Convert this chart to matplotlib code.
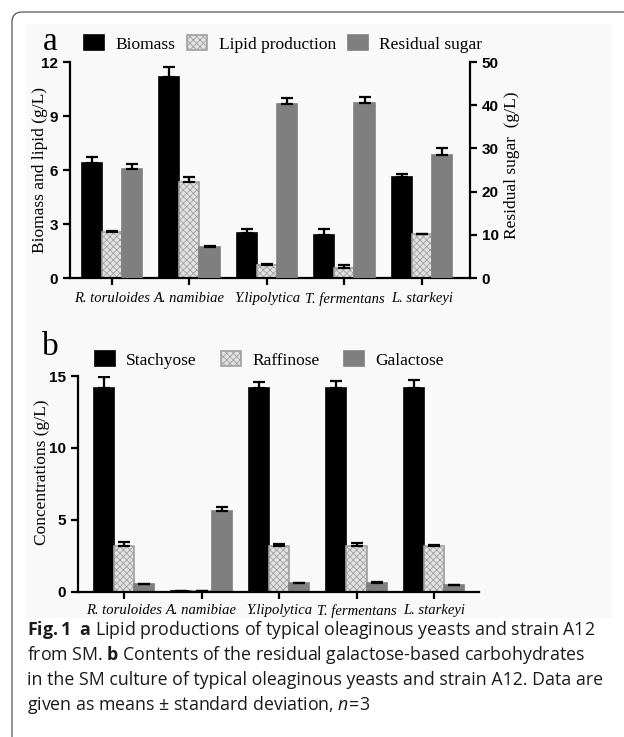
import numpy as np
import matplotlib
matplotlib.use('Agg')
import matplotlib.pyplot as plt
from matplotlib.patches import FancyBboxPatch, Rectangle
from matplotlib.transforms import IdentityTransform

# Dados
strains = ['R. toruloides', 'A. namibiae', 'Y.lipolytica', 'T. fermentans', 'L. starkeyi']

# painel a
biomass = [6.4, 11.15, 2.5, 2.4, 5.6]
biomass_err = [0.3, 0.6, 0.2, 0.3, 0.2]
lipid = [2.55, 5.35, 0.72, 0.55, 2.42]
lipid_err = [0.05, 0.25, 0.06, 0.2, 0.05]
sugar = [25.3, 7.2, 40.3, 40.6, 28.5]
sugar_err = [1.2, 0.3, 1.3, 1.4, 1.5]

# painel b
stachyose = [14.2, 0.04, 14.2, 14.2, 14.2]
stachyose_err = [0.7, 0.0, 0.35, 0.45, 0.5]
raffinose = [3.18, 0.04, 3.18, 3.18, 3.18]
raffinose_err = [0.25, 0.0, 0.15, 0.2, 0.1]
galactose = [0.52, 5.63, 0.6, 0.62, 0.45]
galactose_err = [0.03, 0.25, 0.02, 0.05, 0.02]

plt.rcParams['hatch.linewidth'] = 0.6
plt.rcParams['mathtext.fontset'] = 'custom'
plt.rcParams['mathtext.rm'] = 'Open Sans'
plt.rcParams['mathtext.bf'] = 'Open Sans:bold'
plt.rcParams['mathtext.it'] = 'Open Sans:italic'

W, H = 624, 737
fig = plt.figure(figsize=(W / 100, H / 100), dpi=100)

# moldura arredondada e fundo da imagem
fig.add_artist(FancyBboxPatch((12, -40), 700, H - 12 + 40,
                              boxstyle='round,pad=0,rounding_size=10',
                              transform=IdentityTransform(), facecolor='white',
                              edgecolor='#555555', linewidth=0.9, zorder=-2))
fig.add_artist(Rectangle((26, H - 618), 586, 594, transform=IdentityTransform(),
                         facecolor='#f9f9f9', edgecolor='none', zorder=-1))

serif = 'Liberation Serif'
sans = 'Liberation Sans'
black = '#000000'
grey = '#7f7f7f'
lipid_face = '#e2e2e2'
lipid_edge = '#a0a0a0'

x = np.arange(len(strains))
w = 0.26


def px(l, b, r, t):
    return [l / W, 1 - b / H, (r - l) / W, (b - t) / H]


def style_axis(ax):
    ax.set_facecolor('none')
    ax.spines['top'].set_visible(False)
    for s in ['left', 'bottom', 'right']:
        ax.spines[s].set_linewidth(1.6)
    ax.tick_params(axis='both', direction='out', length=5, width=1.6)
    for lab in ax.get_yticklabels():
        lab.set_fontfamily(sans)
        lab.set_fontweight('bold')
        lab.set_fontsize(11)


def bars(ax, pos, vals, errs, color, edge, hatch=None):
    b = ax.bar(pos, vals, w, color=color, edgecolor=edge, linewidth=1.2, hatch=hatch)
    ax.errorbar(pos, vals, yerr=[np.zeros(len(vals)), errs], fmt='none',
                ecolor='black', elinewidth=1.6, capsize=4.5, capthick=1.6)
    return b


# ---------- painel a ----------
ax1 = fig.add_axes(px(70, 278, 470, 62))
ax2 = ax1.twinx()
h1 = bars(ax1, x - w, biomass, biomass_err, black, black)
h2 = bars(ax1, x, lipid, lipid_err, lipid_face, lipid_edge, hatch='xxxxx')
h3 = bars(ax2, x + w, sugar, sugar_err, grey, grey)
ax1.set_xlim(-0.54, 4.62)
ax1.set_ylim(0, 12)
ax1.set_yticks([0, 3, 6, 9, 12])
ax2.set_ylim(0, 50)
ax2.set_yticks([0, 10, 20, 30, 40, 50])
ax1.set_xticks(x)
ax1.set_xticklabels(strains, fontfamily=serif, fontstyle='italic', fontsize=10.5)
style_axis(ax1)
style_axis(ax2)
ax1.tick_params(axis='x', pad=5)
ax2.spines['left'].set_visible(False)
ax2.spines['bottom'].set_visible(False)
ax1.spines['right'].set_visible(False)
ax1.set_ylabel('Biomass and lipid (g/L)', fontfamily=serif, fontsize=12.5)
ax1.yaxis.set_label_coords(-0.056, 0.5)
ax2.set_ylabel('Residual sugar  (g/L)', fontfamily=serif, fontsize=12.5, rotation=90)
ax2.yaxis.set_label_coords(1.086, 0.52)

fig.legend([h1, h2, h3], ['Biomass', 'Lipid production', 'Residual sugar'],
           loc='center left', bbox_to_anchor=(84 / W, 1 - 44 / H), ncol=3,
           frameon=False, prop={'family': serif, 'size': 12.5},
           handlelength=1.15, handleheight=0.9, handletextpad=0.65,
           columnspacing=0.7, borderpad=0, borderaxespad=0)
fig.text(50 / W, 1 - 42 / H, 'a', fontfamily=serif, fontsize=24, ha='center', va='center')

# ---------- painel b ----------
ax3 = fig.add_axes(px(78, 591.7, 479, 376))
g1 = bars(ax3, x - w, stachyose, stachyose_err, black, black)
g2 = bars(ax3, x, raffinose, raffinose_err, lipid_face, lipid_edge, hatch='xxxxx')
g3 = bars(ax3, x + w, galactose, galactose_err, grey, grey)
ax3.set_xlim(-0.594, 4.58)
ax3.set_ylim(0, 15)
ax3.set_yticks([0, 5, 10, 15])
ax3.set_xticks(x)
ax3.set_xticklabels(strains, fontfamily=serif, fontstyle='italic', fontsize=10.5)
style_axis(ax3)
ax3.tick_params(axis='x', pad=4)
ax3.spines['right'].set_visible(False)
ax3.set_ylabel('Concentrations (g/L)', fontfamily=serif, fontsize=12.5)
ax3.yaxis.set_label_coords(-0.07, 0.555)

fig.legend([g1, g2, g3], ['Stachyose', 'Raffinose', 'Galactose'],
           loc='center left', bbox_to_anchor=(95 / W, 1 - 360 / H), ncol=3,
           frameon=False, prop={'family': serif, 'size': 12.5},
           handlelength=1.15, handleheight=0.9, handletextpad=0.65,
           columnspacing=1.4, borderpad=0, borderaxespad=0)
fig.text(50 / W, 1 - 347 / H, 'b', fontfamily=serif, fontsize=24, ha='center', va='center')

# ---------- legenda da figura ----------
caption = [
    r'$\mathbf{Fig.1}$  $\mathbf{a}$ Lipid productions of typical oleaginous yeasts and strain A12',
    r'from SM. $\mathbf{b}$ Contents of the residual galactose-based carbohydrates',
    r'in the SM culture of typical oleaginous yeasts and strain A12. Data are',
    r'given as means $\pm$ standard deviation, $\mathit{n}\!=\!$3',
]
for i, line in enumerate(caption):
    fig.text(27 / W, 1 - (630 + 25 * i) / H, line, fontfamily='Open Sans',
             fontsize=12.8, ha='left', va='center', color='#1a1a1a')

fig.savefig('out.png', dpi=100)
